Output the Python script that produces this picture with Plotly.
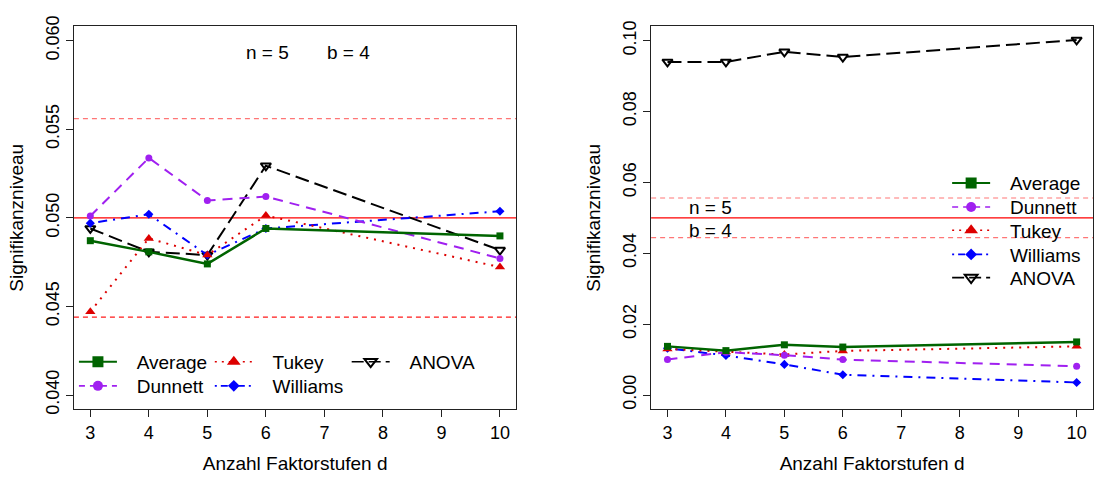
import plotly.graph_objects as go

d = [3, 4, 5, 6, 10]

# Left panel (zoomed range)
L_average  = [0.04871, 0.04808, 0.04740, 0.04940, 0.04898]
L_dunnett  = [0.05010, 0.05338, 0.05098, 0.05120, 0.04771]
L_tukey    = [0.04470, 0.04884, 0.04790, 0.05013, 0.04722]
L_williams = [0.04970, 0.05020, 0.04790, 0.04940, 0.05037]
L_anova    = [0.04940, 0.04808, 0.04790, 0.05294, 0.04818]

# Right panel (full range)
R_average  = [0.01373, 0.01253, 0.01417, 0.01354, 0.01499]
R_dunnett  = [0.01000, 0.01210, 0.01125, 0.01000, 0.00810]
R_tukey    = [0.01300, 0.01215, 0.01144, 0.01245, 0.01373]
R_williams = [0.01320, 0.01117, 0.00864, 0.00572, 0.00354]
R_anova    = [0.09400, 0.09400, 0.09684, 0.09537, 0.10020]

alpha = 0.05
ci_low, ci_high = 0.0444, 0.0556

names = ["Average", "Dunnett", "Tukey", "Williams", "ANOVA"]
x_ticks = [3, 4, 5, 6, 7, 8, 9, 10]
L_yticks = [0.040, 0.045, 0.050, 0.055, 0.060]
R_yticks = [0.00, 0.02, 0.04, 0.06, 0.08, 0.10]

FONT = "Liberation Sans, Arial, Helvetica, sans-serif"
W, H = 1094, 478

styles = {
    "Average":  dict(line=dict(color="#006400", width=2.5),
                     marker=dict(symbol="square", size=7, color="#006400")),
    "Dunnett":  dict(line=dict(color="#A020F0", width=2, dash="10px,7px"),
                     marker=dict(symbol="circle", size=7, color="#A020F0")),
    "Tukey":    dict(line=dict(color="#DD0000", width=2, dash="2px,6px"),
                     marker=dict(symbol="triangle-up", size=9, color="#DD0000")),
    "Williams": dict(line=dict(color="#0000FF", width=2, dash="2px,6px,9px,6px"),
                     marker=dict(symbol="diamond", size=7, color="#0000FF")),
    "ANOVA":    dict(line=dict(color="#000000", width=2, dash="14px,6px"),
                     marker=dict(symbol="triangle-down-open", size=9, color="#000000",
                                 line=dict(width=2, color="#000000"))),
}
legend_marker_size = {"Average": 11, "Dunnett": 10, "Tukey": 12, "Williams": 9, "ANOVA": 11}
legend_dash = {"Average": None, "Dunnett": "6px,5px", "Tukey": "2px,5px",
               "Williams": "2px,4px,7px,4px", "ANOVA": "12px,5px"}

# legend placement (pixel positions of each legend key line start and row centre)
left_leg_pos = {"Average": (74, 363), "Dunnett": (74, 388),
                "Tukey": (210, 363), "Williams": (210, 388), "ANOVA": (347, 363)}
right_leg_pos = {"Average": (948, 178), "Dunnett": (948, 203), "Tukey": (948, 227),
                 "Williams": (948, 252), "ANOVA": (948, 276)}

fig = go.Figure()

left_series = dict(zip(names, [L_average, L_dunnett, L_tukey, L_williams, L_anova]))
right_series = dict(zip(names, [R_average, R_dunnett, R_tukey, R_williams, R_anova]))

order = ["ANOVA", "Williams", "Tukey", "Dunnett", "Average"]
PAD = "\u2002\u00a0"

for xa, ya, series in [("x", "y", left_series), ("x2", "y2", right_series)]:
    for n in order:
        st = styles[n]
        fig.add_trace(go.Scatter(x=d, y=series[n], mode="lines+markers", name=n,
                                 line=st["line"], marker=st["marker"],
                                 xaxis=xa, yaxis=ya, showlegend=False, cliponaxis=False))

# legend-only entries (one legend per entry so each can be placed exactly)
layout_legends = {}
k = 1
for side, pos in [("x", left_leg_pos), ("x2", right_leg_pos)]:
    ya = "y" if side == "x" else "y2"
    for n in names:
        st = styles[n]
        lkey = "legend" if k == 1 else f"legend{k}"
        mk = dict(st["marker"])
        mk["size"] = legend_marker_size[n]
        ln = dict(st["line"])
        if legend_dash[n]:
            ln["dash"] = legend_dash[n]
        ln["width"] = 1.6 if n != "Average" else 2
        fig.add_trace(go.Scatter(x=[None], y=[None], mode="lines+markers", name=PAD + n,
                                 line=ln, marker=mk, xaxis=side, yaxis=ya,
                                 legend=lkey, showlegend=True))
        px, py = pos[n]
        layout_legends[lkey] = dict(
            font=dict(family=FONT, size=19, color="#000000"), bgcolor="rgba(0,0,0,0)",
            borderwidth=0, itemsizing="trace", itemwidth=38, xanchor="left",
            yanchor="middle", x=px / W, y=(H - py) / H, orientation="v",
            itemclick=False, itemdoubleclick=False)
        k += 1

# reference lines
ci_colors = {("x domain", ci_low): "#FF1A1A", ("x domain", ci_high): "rgba(255,60,60,0.7)",
             ("x2 domain", ci_low): "rgba(255,60,60,0.7)",
             ("x2 domain", ci_high): "rgba(255,60,60,0.7)"}
for xr, yr in [("x domain", "y"), ("x2 domain", "y2")]:
    fig.add_shape(type="line", xref=xr, yref=yr, x0=0, x1=1, y0=alpha, y1=alpha,
                  line=dict(color="#FF0000", width=1.2), layer="below")
    for v in (ci_low, ci_high):
        fig.add_shape(type="line", xref=xr, yref=yr, x0=0, x1=1, y0=v, y1=v,
                      line=dict(color=ci_colors[(xr, v)], width=1.2, dash="5px,4px"),
                      layer="below")

# texts
ann_font = dict(family=FONT, size=19, color="#000000")
fig.add_annotation(x=6.02, y=0.05932, xref="x", yref="y", text="n = 5",
                   showarrow=False, font=ann_font)
fig.add_annotation(x=7.415, y=0.05932, xref="x", yref="y", text="b = 4",
                   showarrow=False, font=ann_font)
fig.add_annotation(x=3.74, y=0.05305, xref="x2", yref="y2", text="n = 5",
                   showarrow=False, font=ann_font)
fig.add_annotation(x=3.74, y=0.04651, xref="x2", yref="y2", text="b = 4",
                   showarrow=False, font=ann_font)

xdom1 = [74 / W, 516.8 / W]
xdom2 = [651.7 / W, 1.0]
ydom = [(H - 412) / H, (H - 16) / H]

axis_common = dict(showgrid=False, zeroline=False, showline=True, linecolor="#222222",
                   linewidth=1, mirror=True, ticks="outside", ticklen=7, tickwidth=1,
                   tickcolor="#222222",
                   tickfont=dict(family=FONT, size=18, color="#000000"))

xaxis_common = dict(axis_common, range=[2.72, 10.28], tickmode="array", tickvals=x_ticks,
                    ticktext=[str(t) for t in x_ticks],
                    title=dict(text="Anzahl Faktorstufen d",
                               font=dict(family=FONT, size=19, color="#000000"),
                               standoff=14))

fig.update_layout(
    width=W, height=H,
    margin=dict(l=0, r=0, t=0, b=0),
    paper_bgcolor="white", plot_bgcolor="white",
    font=dict(family=FONT, size=18, color="#000000"),
    xaxis=dict(xaxis_common, domain=xdom1, anchor="y"),
    xaxis2=dict(xaxis_common, domain=xdom2, anchor="y2"),
    yaxis=dict(axis_common, domain=ydom, anchor="x", range=[0.0392, 0.0608],
               tickmode="array", tickvals=L_yticks,
               ticktext=[f"{v:.3f}" for v in L_yticks], tickangle=-90,
               title=dict(text="Signifikanzniveau",
                          font=dict(family=FONT, size=19, color="#000000"), standoff=14)),
    yaxis2=dict(axis_common, domain=ydom, anchor="x2", range=[-0.004, 0.104],
                tickmode="array", tickvals=R_yticks,
                ticktext=[f"{v:.2f}" for v in R_yticks], tickangle=-90,
                title=dict(text="Signifikanzniveau",
                           font=dict(family=FONT, size=19, color="#000000"), standoff=14)),
    showlegend=True,
    **layout_legends,
)

fig.write_html("out.html")
